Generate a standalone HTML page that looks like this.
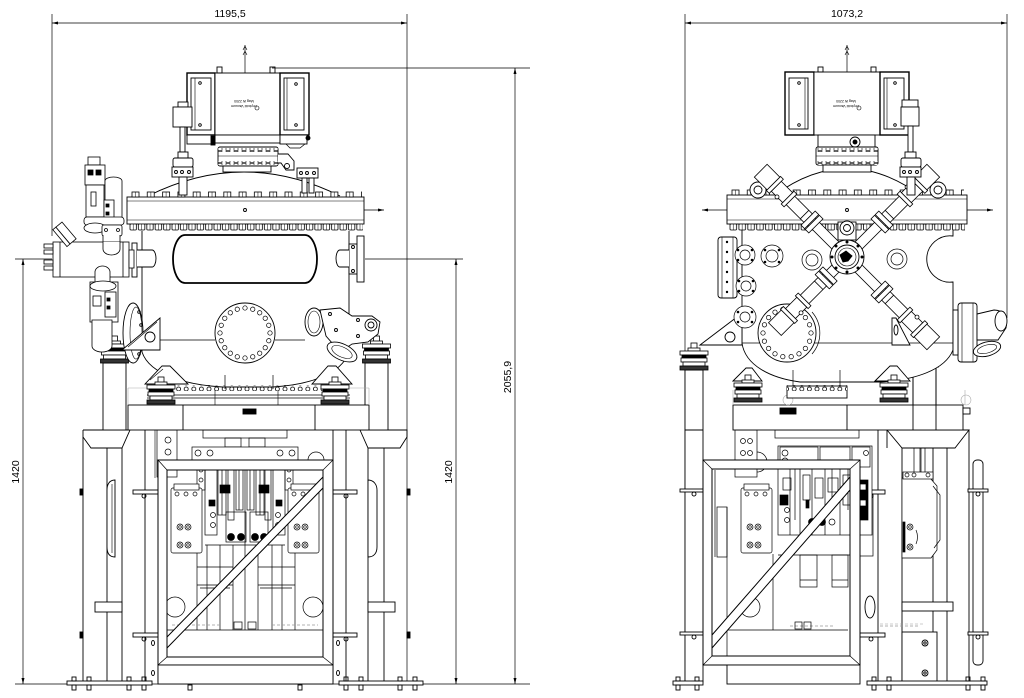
<!DOCTYPE html>
<html><head><meta charset="utf-8"><style>
html,body{margin:0;padding:0;background:#fff;}
svg{display:block}
text{font-family:"Liberation Sans",sans-serif;fill:#000;stroke:none}
</style></head><body>
<svg width="1024" height="698" viewBox="0 0 1024 698" xmlns="http://www.w3.org/2000/svg">
<defs>
<marker id="a" viewBox="0 0 12 6" refX="12" refY="3" markerWidth="10" markerHeight="3" orient="auto-start-reverse" markerUnits="userSpaceOnUse"><path d="M0,0 L12,3 L0,6 Z" fill="#000"/></marker>
<pattern id="btL" x="130" y="191" width="15.3" height="7" patternUnits="userSpaceOnUse"><rect x="2" y="1" width="7" height="5" fill="#fff" stroke="#000" stroke-width=".8"/><line x1="5.5" y1="1" x2="5.5" y2="6" stroke="#000" stroke-width=".5"/></pattern>
<pattern id="bbL" x="129" y="224" width="8.4" height="7" patternUnits="userSpaceOnUse"><rect x="1" y="0" width="6.4" height="6" rx="1" fill="#fff" stroke="#000" stroke-width=".8"/><line x1="4.2" y1="0" x2="4.2" y2="6" stroke="#000" stroke-width=".5"/></pattern>
<pattern id="btR" x="730" y="189" width="15.3" height="7" patternUnits="userSpaceOnUse"><rect x="2" y="1" width="7" height="5" fill="#fff" stroke="#000" stroke-width=".8"/><line x1="5.5" y1="1" x2="5.5" y2="6" stroke="#000" stroke-width=".5"/></pattern>
<pattern id="bbR" x="729" y="224" width="8.9" height="7" patternUnits="userSpaceOnUse"><rect x="1" y="0" width="6.6" height="6" rx="1" fill="#fff" stroke="#000" stroke-width=".8"/><line x1="4.3" y1="0" x2="4.3" y2="6" stroke="#000" stroke-width=".5"/></pattern>
<pattern id="pc" x="0" y="386" width="7.6" height="6" patternUnits="userSpaceOnUse"><circle cx="3.8" cy="3" r="2" fill="#fff" stroke="#000" stroke-width=".8"/></pattern>
<pattern id="pf" x="0" y="147" width="8" height="4" patternUnits="userSpaceOnUse"><rect x="2" y="0.5" width="4" height="3" fill="#fff" stroke="#000" stroke-width=".6"/></pattern>
<g id="mt" fill="#fff" stroke="#000" stroke-width=".8">
 <rect x="-3" y="-8" width="6" height="6"/>
 <rect x="-6" y="-3" width="12" height="3"/>
 <rect x="-14" y="0" width="28" height="4"/>
 <rect x="-12" y="4" width="24" height="3" fill="#000"/>
 <rect x="-13" y="7" width="26" height="4"/>
 <rect x="-11" y="11" width="22" height="4"/>
 <rect x="-14" y="15" width="28" height="4" fill="#333"/>
</g>
<g id="arm" fill="#fff" stroke="#000" stroke-width=".8">
 <rect x="15" y="-5" width="80" height="10"/>
 <rect x="44" y="-10" width="5" height="20"/>
 <rect x="50" y="-10" width="5" height="20"/>
 <rect x="55" y="-6" width="25" height="12"/>
 <line x1="60" y1="-6" x2="60" y2="6"/>
 <rect x="80" y="-9" width="4" height="18"/>
 <rect x="84" y="-7" width="16" height="14"/>
 <rect x="100" y="-10" width="4" height="20"/>
 <rect x="104" y="-9" width="18" height="18"/>
 <circle cx="92" cy="-7" r="2"/>
</g>
<g id="sp" fill="#fff" stroke="#000" stroke-width=".7">
 <rect x="0" y="0" width="31" height="65" rx="2"/>
 <rect x="3" y="-4" width="25" height="6"/>
 <circle cx="6" cy="6" r="2"/><circle cx="15" cy="6" r="2"/><circle cx="24" cy="6" r="2"/>
 <circle cx="9" cy="39" r="3"/><circle cx="17" cy="39" r="3"/>
 <circle cx="9" cy="57" r="3"/><circle cx="17" cy="57" r="3"/>
 <circle cx="9" cy="39" r="1.3"/><circle cx="17" cy="39" r="1.3"/>
 <circle cx="9" cy="57" r="1.3"/><circle cx="17" cy="57" r="1.3"/>
</g>
</defs>

<!-- ================= DIMENSIONS ================= -->
<g stroke="#000" stroke-width=".7" fill="none">
 <line x1="52" y1="14" x2="52" y2="236"/>
 <line x1="407" y1="14" x2="407" y2="684"/>
 <line x1="52" y1="23" x2="407" y2="23" marker-start="url(#a)" marker-end="url(#a)"/>
 <line x1="272" y1="68" x2="530" y2="68"/>
 <line x1="515" y1="68" x2="515" y2="684" marker-start="url(#a)" marker-end="url(#a)"/>
 <line x1="15" y1="259" x2="52" y2="259"/>
 <line x1="23" y1="259" x2="23" y2="684" marker-start="url(#a)" marker-end="url(#a)"/>
 <line x1="365" y1="259" x2="463" y2="259"/>
 <line x1="456" y1="259" x2="456" y2="684" marker-start="url(#a)" marker-end="url(#a)"/>
 <line x1="15" y1="684" x2="530" y2="684"/>
 <line x1="685" y1="14" x2="685" y2="684"/>
 <line x1="1007" y1="14" x2="1007" y2="318"/>
 <line x1="685" y1="23" x2="1007" y2="23" marker-start="url(#a)" marker-end="url(#a)"/>
</g>
<text x="230" y="17" font-size="10.5" text-anchor="middle">1195,5</text>
<text x="847" y="17" font-size="10.5" text-anchor="middle">1073,2</text>
<text transform="translate(511,377) rotate(-90)" font-size="10.5" text-anchor="middle">2055,9</text>
<text transform="translate(19,472) rotate(-90)" font-size="10.5" text-anchor="middle">1420</text>
<text transform="translate(452,472) rotate(-90)" font-size="10.5" text-anchor="middle">1420</text>

<!-- ================= LEFT VIEW ================= -->
<g fill="none" stroke="#000" stroke-width=".9">
 <!-- frame legs -->
 <path d="M83 430 H130 L122 448 H91 L83 437"/>
 <line x1="83" y1="430" x2="83" y2="682"/>
 <line x1="107" y1="448" x2="107" y2="682"/>
 <line x1="122" y1="448" x2="122" y2="682"/>
 <line x1="145" y1="430" x2="145" y2="682"/>
 <line x1="158" y1="430" x2="158" y2="682"/>
 <line x1="155" y1="430" x2="155" y2="478" stroke-width=".6"/>
 <path d="M360 430 H407 V437 L400 448 H368 L360 430"/>
 <line x1="368" y1="448" x2="368" y2="682"/>
 <line x1="384" y1="448" x2="384" y2="682"/>
 <line x1="333" y1="430" x2="333" y2="682"/>
 <line x1="346" y1="430" x2="346" y2="682"/>
 <path d="M115 480 C109 480 107 485 107 490 V547 C107 553 109 557 115 557 Z" fill="#fff"/>
 <path d="M112 484 V553" stroke-width=".6"/>
 <path d="M368 480 C374 480 377 485 377 490 V547 C377 553 374 557 368 557 Z" fill="#fff"/>
 <rect x="95" y="602" width="27" height="10" fill="#fff"/>
 <rect x="368" y="602" width="27" height="10" fill="#fff"/>
 <rect x="133" y="490" width="25" height="4" fill="#fff"/><circle cx="144" cy="496" r="2"/>
 <rect x="133" y="633" width="25" height="4" fill="#fff"/><circle cx="144" cy="639" r="2"/>
 <rect x="333" y="490" width="24" height="4" fill="#fff"/><circle cx="346" cy="496" r="2"/>
 <rect x="333" y="633" width="24" height="4" fill="#fff"/><circle cx="346" cy="639" r="2"/>
 <rect x="80" y="489" width="3" height="6" fill="#000"/><rect x="80" y="632" width="3" height="6" fill="#000"/>
 <rect x="407" y="489" width="3" height="6" fill="#000"/><rect x="407" y="632" width="3" height="6" fill="#000"/>

 <!-- machinery behind frame -->
 <g stroke-width=".7">
  <rect x="157" y="430" width="20" height="47" fill="#fff"/>
  <circle cx="168" cy="440" r="3"/><circle cx="168" cy="452" r="3"/><circle cx="168" cy="464" r="3"/>
  <rect x="203" y="430" width="84" height="8" fill="#fff"/>
  <rect x="225" y="438" width="16" height="9"/><rect x="249" y="438" width="16" height="9"/>
  <rect x="192" y="447" width="106" height="13" fill="#fff"/>
  <circle cx="198" cy="453" r="3"/><circle cx="210" cy="453" r="3"/><circle cx="280" cy="453" r="3"/><circle cx="292" cy="453" r="3"/>
  <circle cx="316" cy="460" r="8"/>
  <rect x="215" y="460" width="14" height="10"/><rect x="232" y="460" width="10" height="10"/>
  <rect x="250" y="460" width="10" height="10"/><rect x="262" y="460" width="14" height="10"/>
  <rect x="197" y="460" width="8" height="30"/><rect x="285" y="460" width="8" height="30"/>
  <circle cx="201" cy="470" r="2"/><circle cx="201" cy="480" r="2"/><circle cx="289" cy="470" r="2"/><circle cx="289" cy="480" r="2"/>
  <rect x="205" y="470" width="12" height="65"/><rect x="273" y="470" width="12" height="65"/>
  <rect x="218" y="470" width="8" height="45"/><rect x="228" y="470" width="6" height="50"/>
  <rect x="236" y="470" width="7" height="40"/><rect x="247" y="470" width="7" height="40"/>
  <rect x="256" y="470" width="8" height="45"/><rect x="265" y="470" width="6" height="50"/>
  <line x1="222" y1="470" x2="222" y2="515"/><line x1="260" y1="470" x2="260" y2="515"/>
  <line x1="239" y1="470" x2="239" y2="510"/><line x1="250" y1="470" x2="250" y2="510"/>
  <rect x="220" y="485" width="10" height="8" fill="#000"/><rect x="259" y="485" width="10" height="8" fill="#000"/>
  <rect x="209" y="500" width="6" height="6" fill="#000"/><rect x="276" y="500" width="6" height="6" fill="#000"/>
  <rect x="226" y="512" width="20" height="30"/><rect x="250" y="512" width="18" height="30"/>
  <circle cx="231" cy="537" r="3.5" fill="#000"/><circle cx="241" cy="537" r="3.5" fill="#000"/>
  <circle cx="255" cy="537" r="3.5" fill="#000"/><circle cx="264" cy="537" r="3.5" fill="#000"/>
  <circle cx="213" cy="525" r="2.5"/><circle cx="213" cy="515" r="2.5"/><circle cx="278" cy="515" r="2.5"/><circle cx="278" cy="525" r="2.5"/>
  <line x1="245" y1="460" x2="245" y2="630"/>
  <line x1="197" y1="553" x2="197" y2="630"/><line x1="207" y1="545" x2="207" y2="630"/>
  <line x1="220" y1="545" x2="220" y2="630"/><line x1="233" y1="545" x2="233" y2="630"/>
  <line x1="258" y1="545" x2="258" y2="630"/><line x1="272" y1="545" x2="272" y2="630"/>
  <line x1="282" y1="545" x2="282" y2="630"/><line x1="295" y1="553" x2="295" y2="630"/>
  <line x1="197" y1="567" x2="233" y2="567"/><line x1="258" y1="567" x2="295" y2="567"/>
  <line x1="197" y1="585" x2="233" y2="585"/><line x1="258" y1="585" x2="295" y2="585"/>
  <line x1="200" y1="588" x2="230" y2="588"/><line x1="260" y1="588" x2="292" y2="588"/>
  <line x1="205" y1="545" x2="285" y2="545"/>
  <circle cx="175" cy="607" r="10"/><circle cx="313" cy="607" r="10"/>
  <line x1="167" y1="630" x2="323" y2="630"/>
  <path d="M172 625 H220 M272 625 H318" stroke="#999" stroke-dasharray="3 2"/>
  <rect x="234" y="622" width="8" height="7"/><rect x="248" y="622" width="8" height="7"/>
 </g>
 <use href="#sp" x="171" y="488"/>
 <use href="#sp" x="288" y="488"/>

 <!-- cross frame (front) -->
 <path d="M158 460 H333 V665 H158 Z M167 470 V657 H323 V470 Z" fill="#fff" fill-rule="evenodd" stroke-width="1"/>
 <path d="M158 460 L167 470 M333 460 L323 470 M158 665 L167 657 M333 665 L323 657" stroke-width=".7"/>
 <path d="M167 637 L323 477 L323 488 L167 648 Z" fill="#fff" stroke-width="1"/>
 <rect x="158" y="665" width="175" height="19" fill="#fff"/>
 <ellipse cx="153" cy="643" rx="1.5" ry="2.5"/><ellipse cx="153" cy="673" rx="1.5" ry="2.5"/>
 <ellipse cx="338" cy="643" rx="1.5" ry="2.5"/><ellipse cx="338" cy="673" rx="1.5" ry="2.5"/>
 <!-- base plates -->
 <rect x="67" y="681" width="85" height="4" fill="#fff"/>
 <rect x="72" y="685" width="4" height="5"/><rect x="87" y="685" width="4" height="5"/><rect x="127" y="685" width="4" height="5"/><rect x="142" y="685" width="4" height="5"/>
 <rect x="72" y="677" width="4" height="4"/><rect x="87" y="677" width="4" height="4"/><rect x="127" y="677" width="4" height="4"/><rect x="142" y="677" width="4" height="4"/>
 <rect x="339" y="681" width="84" height="4" fill="#fff"/>
 <rect x="344" y="685" width="4" height="5"/><rect x="359" y="685" width="4" height="5"/><rect x="398" y="685" width="4" height="5"/><rect x="413" y="685" width="4" height="5"/>
 <rect x="344" y="677" width="4" height="4"/><rect x="359" y="677" width="4" height="4"/><rect x="398" y="677" width="4" height="4"/><rect x="413" y="677" width="4" height="4"/>
 <rect x="188" y="685" width="4" height="5"/><rect x="298" y="685" width="4" height="5"/>

 <!-- posts & table -->
 <rect x="103" y="363" width="23" height="67" fill="#fff"/>
 <rect x="365" y="363" width="23" height="67" fill="#fff"/>
 <use href="#mt" x="114.5" y="344"/>
 <use href="#mt" x="376.5" y="344"/>
 <rect x="128" y="405" width="241" height="25" fill="#fff"/>
 <line x1="183" y1="405" x2="183" y2="430"/><line x1="315" y1="405" x2="315" y2="430"/>
 <rect x="243" y="409" width="13" height="5" fill="#000"/>
 <path d="M128 388 H147 M350 388 H369 M128 388 V405 M369 388 V405" stroke="#aaa" stroke-width=".6"/>
 <line x1="147" y1="395" x2="350" y2="395" stroke-width=".7"/>
 <line x1="147" y1="398" x2="350" y2="398" stroke-width=".7"/>
 <line x1="215" y1="388" x2="215" y2="405" stroke-width=".6"/><line x1="278" y1="388" x2="278" y2="405" stroke-width=".6"/>

 <!-- vessel body -->
 <path d="M142 231 V352 C150 376 190 385 222 387 H273 C305 385 341 376 349 352 V231" fill="#fff"/>
 <rect x="173" y="385" width="150" height="6" fill="url(#pc)" stroke="none"/>
 <line x1="225" y1="375" x2="225" y2="389" stroke-width=".7"/><line x1="273" y1="375" x2="273" y2="389" stroke-width=".7"/>
 <path d="M145 384 L162 366 L170 366 L188 384 Z" fill="#fff"/>
 <path d="M150 380 L163 369" stroke-width=".6"/>
 <path d="M312 384 L328 366 L336 366 L352 384 Z" fill="#fff"/>
 <use href="#mt" x="161" y="385"/>
 <use href="#mt" x="335" y="385"/>
 <!-- window -->
 <path d="M185 235 H305 A12 24 0 0 1 305 283 H185 A12 24 0 0 1 185 235 Z" stroke-width="1.8"/>
 <!-- stubs -->
 <rect x="132" y="243" width="5" height="34" fill="#fff"/>
 <path d="M137 250 H152 A4 8.5 0 0 1 152 267 H137" fill="#fff"/>
 <rect x="349" y="244" width="8" height="30" fill="#fff"/>
 <path d="M349 250 H340 A4 8.5 0 0 0 340 267 H349" fill="#fff"/>
 <rect x="357" y="236" width="7" height="46" fill="#fff"/>
 <circle cx="353" cy="247" r="1.5"/><circle cx="353" cy="271" r="1.5"/>
 <!-- lower features -->
 <path d="M160 340 H215 M275 340 H305" stroke-width=".8"/>
 <circle cx="245" cy="333" r="30" fill="#fff"/>
 <g transform="translate(245,333)" stroke-width=".7">
  <circle id="h20" cx="25" cy="0" r="2.2"/>
  <use href="#h20" transform="rotate(18)"/><use href="#h20" transform="rotate(36)"/><use href="#h20" transform="rotate(54)"/><use href="#h20" transform="rotate(72)"/>
  <use href="#h20" transform="rotate(90)"/><use href="#h20" transform="rotate(108)"/><use href="#h20" transform="rotate(126)"/><use href="#h20" transform="rotate(144)"/>
  <use href="#h20" transform="rotate(162)"/><use href="#h20" transform="rotate(180)"/><use href="#h20" transform="rotate(198)"/><use href="#h20" transform="rotate(216)"/>
  <use href="#h20" transform="rotate(234)"/><use href="#h20" transform="rotate(252)"/><use href="#h20" transform="rotate(270)"/><use href="#h20" transform="rotate(288)"/>
  <use href="#h20" transform="rotate(306)"/><use href="#h20" transform="rotate(324)"/><use href="#h20" transform="rotate(342)"/>
 </g>
 <ellipse cx="133" cy="333" rx="10" ry="30" fill="#fff"/>
 <ellipse cx="136" cy="333" rx="6" ry="26" stroke-width=".6"/>
 <circle cx="139" cy="312" r="1.3"/><circle cx="141" cy="325" r="1.3"/><circle cx="141" cy="341" r="1.3"/><circle cx="139" cy="354" r="1.3"/>
 <path d="M122 350 L160 318 V350 Z" fill="#fff"/>
 <path d="M128 347 L157 322" stroke-width=".6"/>
 <circle cx="150" cy="337" r="5"/>
 <ellipse cx="314" cy="322" rx="9" ry="14" fill="#fff"/>
 <ellipse cx="314" cy="322" rx="6" ry="11" stroke-width=".6"/>
 <path d="M320 310 L340 308 L352 316 L372 316 L380 322 L378 334 L368 342 L352 344 L340 352 L326 336 Z" fill="#fff"/>
 <circle cx="371" cy="325" r="6"/><circle cx="371" cy="325" r="3"/>
 <circle cx="330" cy="314" r="1.5"/><circle cx="336" cy="330" r="1.5"/><circle cx="358" cy="320" r="1.5"/><circle cx="358" cy="336" r="1.5"/>
 <ellipse cx="342" cy="352" rx="16" ry="8" transform="rotate(25 342 352)" fill="#fff"/>
 <ellipse cx="342" cy="352" rx="11" ry="5" transform="rotate(25 342 352)" stroke-width=".6"/>

 <!-- dome & main flange -->
 <path d="M148 196 Q244 148 340 196" fill="#fff"/>
 <rect x="127" y="197" width="237" height="27" fill="#fff"/>
 <line x1="127" y1="201" x2="364" y2="201" stroke-width=".5"/>
 <line x1="127" y1="220" x2="364" y2="220" stroke-width=".5"/>
 <rect x="130" y="191" width="232" height="7" fill="url(#btL)" stroke="none"/>
 <rect x="129" y="224" width="234" height="7" fill="url(#bbL)" stroke="none"/>
 <circle cx="245" cy="210" r="1.5"/>
 <line x1="364" y1="210" x2="384" y2="210" stroke-width=".7" marker-end="url(#a)"/>

 <!-- pump -->
 <rect x="187" y="73" width="28" height="62" fill="#fff" stroke-width="1.4"/>
 <rect x="215" y="73" width="65" height="62" fill="#fff"/>
 <rect x="280" y="73" width="29" height="62" fill="#fff" stroke-width="1.4"/>
 <rect x="191" y="78" width="20" height="52"/><line x1="195" y1="78" x2="195" y2="130" stroke-width=".6"/>
 <rect x="284" y="78" width="20" height="52"/><line x1="287" y1="78" x2="287" y2="130" stroke-width=".6"/>
 <circle cx="200" cy="83" r="1.3"/><circle cx="200" cy="125" r="1.3"/><circle cx="296" cy="84" r="1.3"/><circle cx="296" cy="125" r="1.3"/>
 <line x1="245" y1="45" x2="245" y2="73" stroke-width=".7"/>
 <path d="M243 50 L245 46 L247 50 M243 55 L245 51 L247 55" stroke-width=".6"/>
 <rect x="217" y="67" width="5" height="6"/><rect x="270" y="67" width="5" height="6"/>
 <circle cx="257" cy="108" r="2" stroke-width=".6"/>
 <g transform="rotate(180 244 103)"><text x="244" y="101" font-size="3.5" text-anchor="middle">Leybold Vacuum</text><text x="244" y="106" font-size="3.5" text-anchor="middle">Mag W 2200</text></g>
 <rect x="187" y="135" width="28" height="9" fill="#fff"/>
 <rect x="215" y="135" width="65" height="8" fill="#fff"/>
 <rect x="280" y="135" width="27" height="9" fill="#fff"/>
 <path d="M286 144 L290 148 H300 L305 144" stroke-width=".7"/>
 <rect x="211" y="136" width="4" height="9" fill="#000"/><circle cx="308" cy="138" r="2" fill="#000"/>
 <rect x="218" y="147" width="60" height="19" rx="2" fill="#fff"/>
 <rect x="218" y="148" width="60" height="4" fill="url(#pf)" stroke="none"/>
 <rect x="218" y="161" width="60" height="4" fill="url(#pf)" stroke="none"/>
 <line x1="218" y1="156" x2="278" y2="156" stroke-width=".5"/>
 <rect x="223" y="166" width="48" height="6" fill="#fff"/>
 <path d="M278 154 H288 L294 161 V170 H286 L281 163 H278" fill="#fff"/>
 <circle cx="287" cy="166" r="2.5"/>
 <!-- left small component -->
 <rect x="178" y="102" width="10" height="5" fill="#fff"/>
 <rect x="173" y="107" width="19" height="20" fill="#fff"/>
 <rect x="180" y="127" width="5" height="25" fill="#fff"/>
 <rect x="178" y="152" width="10" height="6" fill="#fff"/>
 <rect x="173" y="158" width="20" height="9" rx="2" fill="#fff"/>
 <rect x="172" y="167" width="21" height="10" fill="#fff"/>
 <circle cx="176" cy="172" r="1.5"/><circle cx="182" cy="172" r="1.5"/><circle cx="189" cy="172" r="1.5"/>
 <rect x="179" y="177" width="8" height="18" fill="#fff"/>
 <!-- right small flange -->
 <rect x="297" y="168" width="21" height="10" fill="#fff"/>
 <circle cx="301" cy="173" r="1.5"/><circle cx="307" cy="173" r="1.5"/><circle cx="314" cy="173" r="1.5"/>
 <rect x="302" y="178" width="5" height="15" fill="#fff"/><rect x="309" y="178" width="5" height="15" fill="#fff"/>

 <!-- left valve column -->
 <g fill="#fff" stroke-width=".8">
  <rect x="88" y="157" width="12" height="8"/>
  <rect x="85" y="165" width="20" height="20"/>
  <rect x="88" y="170" width="5" height="5" fill="#000"/><rect x="96" y="170" width="5" height="5" fill="#000"/>
  <rect x="86" y="185" width="18" height="32"/>
  <rect x="91" y="192" width="5" height="14"/>
  <path d="M105 222 V181 A8.5 4 0 0 1 122 181 V222 Z"/>
  <rect x="104" y="200" width="10" height="22"/>
  <rect x="106" y="204" width="3" height="3" fill="#000"/><rect x="106" y="212" width="3" height="3" fill="#000"/>
  <rect x="84" y="217" width="40" height="8" rx="3"/>
  <ellipse cx="95" cy="228" rx="11" ry="5"/>
  <rect x="102" y="225" width="20" height="11" rx="2"/>
  <circle cx="106" cy="230" r="1.5"/><circle cx="118" cy="230" r="1.5"/>
  <path d="M103 235 V249 A8.5 6 0 0 0 120 249 V235"/>
  <rect x="53" y="242" width="76" height="35"/>
  <line x1="60" y1="242" x2="60" y2="277"/>
  <line x1="123" y1="242" x2="123" y2="277"/>
  <path d="M103 242 V249 A8.5 6 0 0 0 120 249 V242"/>
  <rect x="129" y="250" width="5" height="18"/>
  <rect x="44" y="244" width="9" height="4"/><rect x="44" y="250" width="9" height="4"/>
  <rect x="44" y="260" width="9" height="4"/><rect x="44" y="266" width="9" height="4"/>
  <g transform="translate(66,233) rotate(-40)"><rect x="-4" y="-11" width="8" height="22"/><rect x="-8" y="-11" width="4" height="22"/></g>
  <path d="M95 290 V272 A7.5 6 0 0 1 110 272 V290"/>
  <rect x="90" y="282" width="28" height="40"/>
  <ellipse cx="103" cy="286" rx="13" ry="5"/>
  <rect x="105" y="292" width="11" height="25"/>
  <rect x="93" y="296" width="8" height="10"/>
  <rect x="107" y="298" width="3" height="3" fill="#000"/><rect x="107" y="306" width="3" height="3" fill="#000"/>
  <path d="M92 320 V346 A10 6 0 0 0 112 346 V320 Z"/>
 </g>
</g>

<!-- ================= RIGHT VIEW ================= -->
<g fill="none" stroke="#000" stroke-width=".9">
 <!-- left leg -->
 <rect x="685" y="370" width="18" height="312" fill="#fff"/>
 <line x1="685" y1="430" x2="703" y2="430"/>
 <rect x="680" y="489" width="28" height="3" fill="#fff"/><circle cx="694" cy="494" r="2"/>
 <rect x="680" y="632" width="28" height="3" fill="#fff"/><circle cx="694" cy="637" r="2"/>
 <use href="#mt" x="694" y="351"/>
 <!-- right leg structure -->
 <line x1="878" y1="430" x2="878" y2="682"/>
 <path d="M887 430 H969 L955 448 H902 Z" fill="#fff"/>
 <line x1="902" y1="448" x2="902" y2="682"/>
 <line x1="933" y1="448" x2="933" y2="682"/>
 <line x1="947" y1="448" x2="947" y2="682"/>
 <line x1="969" y1="430" x2="969" y2="682"/>
 <line x1="887" y1="430" x2="887" y2="448"/>
 <g stroke-width=".7">
  <rect x="914" y="448" width="6" height="28"/><rect x="921" y="448" width="4" height="28"/>
  <path d="M902 478 H930 L937 486 V550 L931 558 H902 Z" fill="#fff"/>
  <path d="M933 486 L940 495 V540 L934 548" />
  <rect x="903" y="472" width="30" height="7" fill="#fff"/>
  <circle cx="907" cy="475" r="2"/><circle cx="914" cy="475" r="2"/><circle cx="928" cy="475" r="2"/>
  <circle cx="910" cy="527" r="3"/><circle cx="910" cy="547" r="3"/><circle cx="910" cy="527" r="1.3"/><circle cx="910" cy="547" r="1.3"/>
  <path d="M916 530 Q919 537 916 544"/>
  <rect x="903" y="522" width="2" height="30" fill="#000"/>
 </g>
 <rect x="902" y="602" width="51" height="9" fill="#fff"/>
 <rect x="902" y="632" width="35" height="50" fill="#fff"/>
 <circle cx="925" cy="643" r="3"/><circle cx="925" cy="643" r="1.2"/>
 <circle cx="925" cy="673" r="3"/><circle cx="925" cy="673" r="1.2"/>
 <path d="M880 624 H924" stroke="#999" stroke-width=".6" stroke-dasharray="3 2"/>
 <rect x="973" y="460" width="10" height="205" rx="4" fill="#fff"/>
 <rect x="968" y="489" width="20" height="3" fill="#fff"/><circle cx="978" cy="494" r="2"/>
 <rect x="968" y="632" width="20" height="3" fill="#fff"/><circle cx="978" cy="637" r="2"/>
 <ellipse cx="870" cy="607" rx="5" ry="11"/>
 <rect x="857" y="490" width="28" height="4" fill="#fff"/><circle cx="871" cy="496" r="2"/>
 <rect x="857" y="633" width="28" height="4" fill="#fff"/><circle cx="871" cy="639" r="2"/>
 <rect x="860" y="494" width="13" height="62" stroke-width=".7"/>

 <!-- machinery behind frame -->
 <g stroke-width=".7">
  <rect x="735" y="430" width="22" height="47" fill="#fff"/>
  <circle cx="743" cy="441" r="2.5"/><circle cx="750" cy="441" r="2.5"/>
  <circle cx="743" cy="453" r="2.5"/><circle cx="750" cy="453" r="2.5"/>
  <circle cx="743" cy="466" r="2.5"/><circle cx="750" cy="466" r="2.5"/>
  <path d="M757 452 A10 10 0 0 1 757 472"/>
  <line x1="715" y1="470" x2="715" y2="557"/>
  <rect x="717" y="507" width="10" height="50"/>
  <line x1="727" y1="507" x2="727" y2="665"/>
  <rect x="775" y="430" width="84" height="8" fill="#fff"/>
  <rect x="778" y="446" width="94" height="89" fill="#fff"/>
  <rect x="780" y="447" width="38" height="20"/><rect x="820" y="447" width="30" height="20"/><rect x="852" y="447" width="18" height="20"/>
  <circle cx="785" cy="453" r="3"/><circle cx="785" cy="461" r="3"/><circle cx="866" cy="453" r="2.5"/>
  <line x1="790" y1="467" x2="790" y2="535"/><line x1="800" y1="467" x2="800" y2="535"/>
  <line x1="812" y1="467" x2="812" y2="535"/><line x1="825" y1="467" x2="825" y2="535"/>
  <line x1="840" y1="467" x2="840" y2="535"/><line x1="855" y1="467" x2="855" y2="535"/>
  <line x1="795" y1="467" x2="795" y2="520"/><line x1="832" y1="467" x2="832" y2="500"/><line x1="848" y1="467" x2="848" y2="510"/>
  <rect x="803" y="475" width="7" height="25"/><rect x="815" y="478" width="8" height="20"/>
  <rect x="828" y="478" width="10" height="14"/><rect x="843" y="475" width="9" height="30"/>
  <rect x="783" y="478" width="8" height="12"/><circle cx="787" cy="510" r="2.5"/><circle cx="787" cy="520" r="2.5"/>
  <rect x="780" y="495" width="8" height="10" fill="#000"/><rect x="806" y="500" width="3" height="8" fill="#000"/>
  <rect x="858" y="480" width="10" height="40" fill="#000"/>
  <rect x="860" y="484" width="6" height="6" fill="#fff"/><rect x="860" y="500" width="6" height="6" fill="#fff"/>
  <circle cx="812" cy="522" r="3.5" fill="#000"/><circle cx="822" cy="522" r="3.5" fill="#000"/><circle cx="832" cy="522" r="3"/>
  <line x1="778" y1="555" x2="860" y2="555"/>
  <rect x="800" y="555" width="17" height="32"/><rect x="832" y="555" width="16" height="32"/>
  <line x1="800" y1="580" x2="817" y2="580"/><line x1="832" y1="580" x2="848" y2="580"/>
  <line x1="773" y1="554" x2="773" y2="630"/>
  <line x1="727" y1="630" x2="848" y2="630"/>
  <circle cx="750" cy="607" r="10"/>
  <path d="M790 626 H835" stroke="#999" stroke-dasharray="3 2"/>
  <rect x="795" y="622" width="7" height="7"/><rect x="804" y="622" width="7" height="7"/>
  <path d="M880 626 H920" stroke="#999" stroke-dasharray="3 2"/>
 </g>
 <use href="#sp" x="741" y="488"/>

 <!-- cross frame -->
 <path d="M703 460 H860 V665 H703 Z M712 469 V656 H850 V469 Z" fill="#fff" fill-rule="evenodd" stroke-width="1"/>
 <path d="M703 460 L712 469 M860 460 L850 469 M703 665 L712 656 M860 665 L850 656" stroke-width=".7"/>
 <path d="M712 635 L850 477 L850 490 L712 648 Z" fill="#fff" stroke-width="1"/>
 <rect x="727" y="665" width="133" height="19" fill="#fff"/>
 <!-- baseplates -->
 <rect x="673" y="681" width="30" height="4" fill="#fff"/>
 <rect x="676" y="685" width="4" height="5"/><rect x="695" y="685" width="4" height="5"/>
 <rect x="676" y="677" width="4" height="4"/><rect x="695" y="677" width="4" height="4"/>
 <rect x="867" y="681" width="120" height="4" fill="#fff"/>
 <rect x="872" y="685" width="4" height="5"/><rect x="887" y="685" width="4" height="5"/><rect x="966" y="685" width="4" height="5"/><rect x="981" y="685" width="4" height="5"/>
 <rect x="872" y="677" width="4" height="4"/><rect x="887" y="677" width="4" height="4"/><rect x="966" y="677" width="4" height="4"/><rect x="981" y="677" width="4" height="4"/>

 <!-- table & posts -->
 <rect x="913" y="367" width="23" height="63" fill="#fff"/>
 <use href="#mt" x="924.5" y="348"/>
 <rect x="733" y="405" width="230" height="25" fill="#fff"/>
 <line x1="847" y1="405" x2="847" y2="430"/>
 <line x1="913" y1="367" x2="913" y2="430"/><line x1="936" y1="367" x2="936" y2="430"/>
 <rect x="780" y="408" width="16" height="6" fill="#000"/>
 <rect x="963" y="408" width="7" height="6" fill="#fff"/>
 <circle cx="966" cy="400" r="5" stroke="#aaa" stroke-width=".6"/>
 <circle cx="788" cy="400" r="5" stroke="#aaa" stroke-width=".6"/>
 <path d="M733 390 V405 M965 390 V405" stroke="#aaa" stroke-width=".6"/>

 <!-- vessel body -->
 <path d="M742 224 V343 C745 365 770 378 800 382 H880 C915 380 945 370 953 350 V282 A23.2 23.2 0 1 1 953 236 V224 Z" fill="#fff"/>
 <line x1="742" y1="343" x2="953" y2="343" stroke-width=".7"/>
 <rect x="787" y="386" width="60" height="12" fill="#fff"/>
 <rect x="787" y="385" width="60" height="6" fill="url(#pc)" stroke="none"/>
 <line x1="793" y1="370" x2="793" y2="386" stroke-width=".7"/><line x1="840" y1="370" x2="840" y2="386" stroke-width=".7"/>
 <path d="M733 381 L746 368 L752 368 L762 381 Z" fill="#fff"/>
 <path d="M875 381 L890 366 L897 366 L910 381 Z" fill="#fff"/>
 <use href="#mt" x="748" y="383"/>
 <use href="#mt" x="894" y="383"/>
 <!-- left gusset & flanges -->
 <path d="M700 345 L737 317 H742 V345 Z" fill="#fff"/>
 <circle cx="730" cy="337" r="5"/>
 <rect x="718" y="237" width="19" height="61" rx="3" fill="#fff"/>
 <line x1="722" y1="237" x2="722" y2="298" stroke-width=".6"/><line x1="733" y1="237" x2="733" y2="298" stroke-width=".6"/>
 <g fill="#000" stroke="none">
  <circle cx="727" cy="242" r="1.2"/><circle cx="727" cy="252" r="1.2"/><circle cx="727" cy="262" r="1.2"/><circle cx="727" cy="272" r="1.2"/><circle cx="727" cy="282" r="1.2"/><circle cx="727" cy="292" r="1.2"/>
 </g>
 <g stroke-width=".7" fill="#fff">
  <circle cx="745" cy="255" r="10"/><circle cx="745" cy="255" r="5"/>
  <circle cx="772" cy="256" r="11"/><circle cx="772" cy="256" r="6"/>
  <circle cx="746" cy="286" r="10"/><circle cx="746" cy="286" r="5"/>
  <circle cx="745" cy="317" r="11"/><circle cx="745" cy="317" r="5"/>
  <circle cx="812" cy="260" r="10"/><circle cx="812" cy="260" r="6"/>
  <circle cx="897" cy="259" r="10"/><circle cx="897" cy="259" r="6"/>
 </g>
 <g fill="#000" stroke="none">
  <circle cx="738" cy="250" r="1.3"/><circle cx="752" cy="250" r="1.3"/><circle cx="738" cy="260" r="1.3"/><circle cx="752" cy="260" r="1.3"/>
  <circle cx="765" cy="250" r="1.3"/><circle cx="779" cy="250" r="1.3"/><circle cx="765" cy="262" r="1.3"/><circle cx="779" cy="262" r="1.3"/>
  <circle cx="739" cy="281" r="1.3"/><circle cx="753" cy="281" r="1.3"/><circle cx="739" cy="291" r="1.3"/><circle cx="753" cy="291" r="1.3"/>
  <circle cx="738" cy="312" r="1.3"/><circle cx="752" cy="312" r="1.3"/><circle cx="738" cy="322" r="1.3"/><circle cx="752" cy="322" r="1.3"/>
 </g>
 <!-- big lower-left flange -->
 <circle cx="787" cy="333" r="29" fill="#fff"/>
 <path d="M812 312 A32 32 0 0 1 812 354" stroke-width=".7"/>
 <g transform="translate(787,333)" stroke-width=".7">
  <circle id="h18" cx="24" cy="0" r="2.2"/>
  <use href="#h18" transform="rotate(20)"/><use href="#h18" transform="rotate(40)"/><use href="#h18" transform="rotate(60)"/><use href="#h18" transform="rotate(80)"/>
  <use href="#h18" transform="rotate(100)"/><use href="#h18" transform="rotate(120)"/><use href="#h18" transform="rotate(140)"/><use href="#h18" transform="rotate(160)"/>
  <use href="#h18" transform="rotate(180)"/><use href="#h18" transform="rotate(200)"/><use href="#h18" transform="rotate(220)"/><use href="#h18" transform="rotate(240)"/>
  <use href="#h18" transform="rotate(260)"/><use href="#h18" transform="rotate(280)"/><use href="#h18" transform="rotate(300)"/><use href="#h18" transform="rotate(320)"/><use href="#h18" transform="rotate(340)"/>
 </g>
 <!-- right gusset & elbow -->
 <path d="M892 345 V318 H896 L910 345 Z" fill="#fff"/>
 <ellipse cx="896" cy="330" rx="2" ry="5"/>
 <rect x="958" y="303" width="19" height="59" rx="3" fill="#fff"/>
 <line x1="962" y1="303" x2="962" y2="362" stroke-width=".6"/><line x1="973" y1="303" x2="973" y2="362" stroke-width=".6"/>
 <rect x="953" y="310" width="5" height="45" fill="#fff"/>
 <path d="M977 314 L994 310 C1004 310 1008 318 1006 328 L998 340 L977 340 Z" fill="#fff"/>
 <ellipse cx="1001" cy="321" rx="6" ry="10" fill="#fff"/>
 <ellipse cx="987" cy="349" rx="14" ry="7" transform="rotate(-15 987 349)" fill="#fff"/>
 <ellipse cx="987" cy="349" rx="10" ry="4" transform="rotate(-15 987 349)" stroke-width=".6"/>

 <!-- dome & main flange -->
 <path d="M775 195 Q847 142 920 195" fill="#fff"/>
 <rect x="727" y="195" width="240" height="29" fill="#fff"/>
 <line x1="727" y1="199" x2="967" y2="199" stroke-width=".5"/>
 <line x1="727" y1="220" x2="967" y2="220" stroke-width=".5"/>
 <rect x="730" y="189" width="234" height="7" fill="url(#btR)" stroke="none"/>
 <rect x="729" y="224" width="236" height="7" fill="url(#bbR)" stroke="none"/>
 <circle cx="847" cy="210" r="1.5"/>
 <line x1="727" y1="210" x2="702" y2="210" stroke-width=".7" marker-end="url(#a)"/>
 <line x1="967" y1="210" x2="993" y2="210" stroke-width=".7" marker-end="url(#a)"/>
 <!-- gauges -->
 <circle cx="758" cy="190" r="8" fill="#fff"/><circle cx="758" cy="190" r="4"/>
 <circle cx="938" cy="190" r="8" fill="#fff"/><circle cx="938" cy="190" r="4"/>
 <!-- X pipes -->
 <use href="#arm" transform="translate(847,257) rotate(-135)"/>
 <use href="#arm" transform="translate(847,257) rotate(-45)"/>
 <use href="#arm" transform="translate(847,257) rotate(45)"/>
 <use href="#arm" transform="translate(847,257) rotate(135) translate(-20,0)"/>
 <!-- top center small flange -->
 <rect x="838" y="222" width="18" height="18" fill="#fff"/>
 <circle cx="847" cy="228" r="7" fill="#fff"/><circle cx="847" cy="228" r="3.5"/>
 <!-- center flange -->
 <circle cx="847" cy="257" r="17" fill="#fff"/>
 <circle cx="847" cy="257" r="12"/>
 <circle cx="847" cy="257" r="9" stroke-width=".6"/>
 <path d="M840 255 L846 251 L852 256 L848 261 L843 262 Z" fill="#000"/>
 <g fill="#000" stroke="none">
  <circle cx="847" cy="242" r="1.5"/><circle cx="847" cy="272" r="1.5"/><circle cx="832" cy="257" r="1.5"/><circle cx="862" cy="257" r="1.5"/>
  <circle cx="836" cy="246" r="1.5"/><circle cx="858" cy="246" r="1.5"/><circle cx="836" cy="268" r="1.5"/><circle cx="858" cy="268" r="1.5"/>
 </g>

 <!-- pump -->
 <rect x="785" y="72" width="29" height="63" fill="#fff" stroke-width="1.4"/>
 <rect x="814" y="72" width="66" height="63" fill="#fff"/>
 <rect x="880" y="72" width="29" height="63" fill="#fff" stroke-width="1.4"/>
 <rect x="789" y="78" width="19" height="51"/><line x1="805" y1="78" x2="805" y2="129" stroke-width=".6"/>
 <rect x="884" y="78" width="20" height="51"/><line x1="887" y1="78" x2="887" y2="129" stroke-width=".6"/>
 <circle cx="799" cy="83" r="1.3"/><circle cx="799" cy="125" r="1.3"/><circle cx="895" cy="83" r="1.3"/><circle cx="895" cy="125" r="1.3"/>
 <line x1="847" y1="45" x2="847" y2="72" stroke-width=".7"/>
 <path d="M845 50 L847 46 L849 50 M845 55 L847 51 L849 55" stroke-width=".6"/>
 <rect x="818" y="67" width="5" height="5"/><rect x="871" y="67" width="5" height="5"/>
 <circle cx="859" cy="108" r="2" stroke-width=".6"/>
 <g transform="rotate(180 846 103)"><text x="846" y="101" font-size="3.5" text-anchor="middle">Leybold Vacuum</text><text x="846" y="106" font-size="3.5" text-anchor="middle">Mag W 2200</text></g>
 <rect x="818" y="135" width="57" height="12" fill="#fff"/>
 <circle cx="855" cy="142" r="5"/><circle cx="855" cy="142" r="2" fill="#000"/>
 <rect x="816" y="147" width="62" height="18" rx="2" fill="#fff"/>
 <rect x="816" y="148" width="62" height="4" fill="url(#pf)" stroke="none"/>
 <rect x="816" y="161" width="62" height="4" fill="url(#pf)" stroke="none"/>
 <line x1="816" y1="156" x2="878" y2="156" stroke-width=".5"/>
 <rect x="823" y="165" width="48" height="7" fill="#fff"/>
 <!-- right small component -->
 <rect x="902" y="100" width="16" height="7" fill="#fff"/>
 <rect x="901" y="107" width="18" height="19" fill="#fff"/>
 <rect x="908" y="126" width="5" height="26" fill="#fff"/>
 <rect x="905" y="152" width="11" height="6" fill="#fff"/>
 <rect x="901" y="158" width="20" height="9" rx="2" fill="#fff"/>
 <rect x="900" y="167" width="21" height="10" fill="#fff"/>
 <circle cx="904" cy="172" r="1.5"/><circle cx="910" cy="172" r="1.5"/><circle cx="917" cy="172" r="1.5"/>
 <rect x="907" y="177" width="8" height="18" fill="#fff"/>
</g>
</svg>
</body></html>
